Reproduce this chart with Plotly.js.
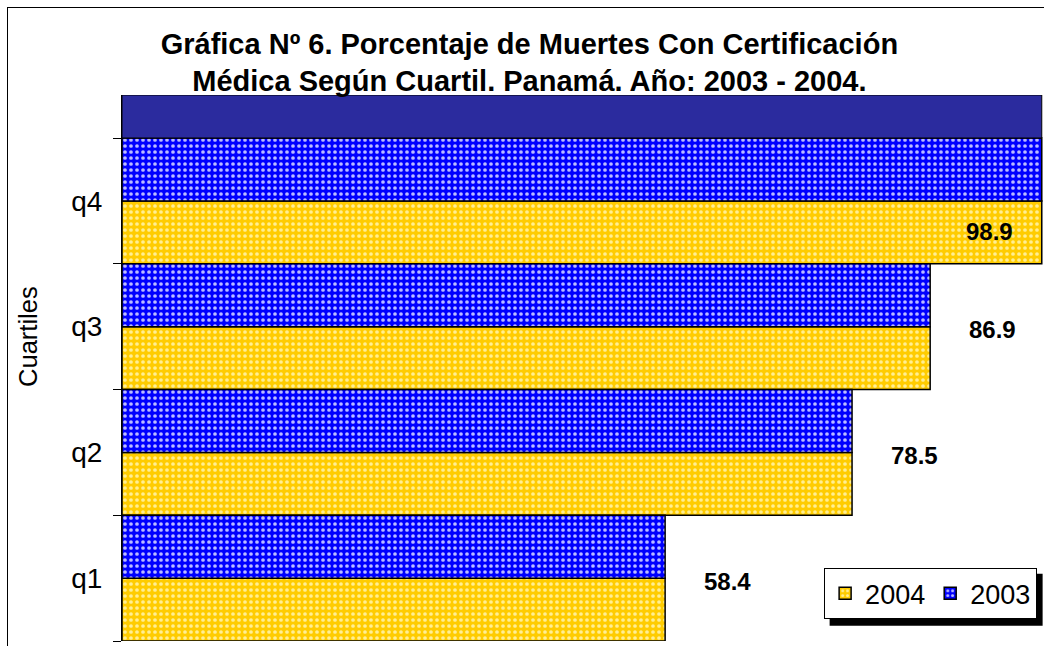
<!DOCTYPE html>
<html>
<head>
<meta charset="utf-8">
<script src="https://cdn.plot.ly/plotly-3.0.1.min.js"></script>
<style>
  html, body { margin: 0; padding: 0; overflow: hidden; background: #ffffff; width: 1044px; height: 646px; }
  #frame { position: absolute; left: 7px; top: 7px; border-left: 1px solid #000; border-top: 1px solid #000; width: 1100px; height: 700px; }
  #chart { width: 1100px; height: 700px; }
</style>
</head>
<body>
<div id="frame"><div id="chart"></div></div>
<script>
// ---- data ----
const categories = ['q1', 'q2', 'q3', 'q4'];
const values2004 = [58.4, 78.5, 86.9, 98.9];
const values2003 = [58.4, 78.5, 86.9, 98.9];
const seriesNames = ['2004', '2003'];
const titleLines = ['Gráfica Nº 6. Porcentaje de Muertes Con Certificación',
                    'Médica Según Cuartil. Panamá. Año: 2003 - 2004.'];
const yTitle = 'Cuartiles';

// ---- styles ----
const FONT = 'Arial, "Liberation Sans", sans-serif';
const yellow = { bg: '#ffcc00', fg: '#fff2a6' };
const blue = { bg: '#0000ff', fg: '#d0d0ff' };
const xMax = 100;
const yTop = 3.842;

function barTrace(name, vals, col) {
  return {
    type: 'bar', orientation: 'h', name: name,
    y: categories, x: vals,
    marker: {
      color: col.bg,
      line: { color: '#000000', width: 1.5 },
      pattern: { shape: '.', bgcolor: col.bg, fgcolor: col.fg, fgopacity: 0.9, size: 6, solidity: 0.3 }
    },
    hoverinfo: 'x+name'
  };
}

const traces = [
  barTrace(seriesNames[0], values2004, yellow),
  barTrace(seriesNames[1], values2003, blue)
];

// data labels for 2004 series
const annotations = values2004.map((v, i) => {
  const inside = v > 95;
  return {
    xref: 'x', yref: 'y', x: v, y: categories[i],
    text: '<b>' + v.toFixed(1) + '</b>', showarrow: false,
    xanchor: 'center', yanchor: 'middle',
    xshift: inside ? -52 : 62, yshift: inside ? -31 : -3,
    font: { family: FONT, size: 24, color: '#000000' }
  };
});
annotations.push({
  xref: 'paper', yref: 'paper', x: -0.101, y: 0.557,
  text: yTitle, showarrow: false, textangle: -90,
  xanchor: 'center', yanchor: 'middle',
  font: { family: FONT, size: 25.5, color: '#000000' }
});

const maxVal = Math.max(...values2003);
const layout = {
  width: 1100, height: 700,
  margin: { l: 114, r: 56, t: 87, b: 67 },
  paper_bgcolor: '#ffffff', plot_bgcolor: '#ffffff',
  font: { family: FONT, color: '#000000' },
  title: {
    text: '<b>' + titleLines.join('<br>') + '</b>',
    font: { family: FONT, size: 29, color: '#000000' },
    xref: 'container', x: 0.474, xanchor: 'center',
    yref: 'container', y: 0.935, yanchor: 'top'
  },
  barmode: 'group', bargap: 0, bargroupgap: 0,
  xaxis: { range: [0, xMax], visible: false, fixedrange: true },
  yaxis: {
    type: 'category', range: [-0.5, yTop],
    showline: true, linecolor: '#000000', linewidth: 1,
    ticks: 'outside', ticklen: 8, tickcolor: '#000000', tickson: 'boundaries',
    showgrid: false, zeroline: false,
    tickfont: { family: FONT, size: 28, color: '#000000' },
    ticklabelstandoff: 13, fixedrange: true
  },
  shapes: [{
    type: 'rect', xref: 'x', yref: 'y', x0: 0, x1: maxVal, y0: 3.5, y1: yTop,
    fillcolor: '#2b2b9e', line: { color: '#000000', width: 1 }, layer: 'above'
  }],
  annotations: annotations,
  showlegend: true,
  legend: {
    orientation: 'h', x: 0.984, xanchor: 'right', y: 0.04, yanchor: 'bottom',
    bgcolor: '#ffffff', bordercolor: '#000000', borderwidth: 1,
    font: { family: FONT, size: 27, color: '#000000' },
    traceorder: 'normal', itemwidth: 30
  }
};

Plotly.newPlot('chart', traces, layout, { displayModeBar: false, staticPlot: true }).then(gd => {
  const bg = gd.querySelector('.legend .bg');
  if (!bg) return;
  const r = bg.getBoundingClientRect();
  const g = gd.getBoundingClientRect();
  const s = gd._fullLayout._size;
  const px = xPix => (xPix - g.left - s.l) / s.w;
  const py = yPix => 1 - (yPix - g.top - s.t) / s.h;
  const shadow = {
    type: 'rect', xref: 'paper', yref: 'paper',
    x0: px(r.left + 5), x1: px(r.right + 6), y0: py(r.bottom + 7), y1: py(r.top + 5),
    fillcolor: '#000000', line: { width: 0 }, layer: 'above'
  };
  Plotly.relayout(gd, { shapes: layout.shapes.concat([shadow]) });
});
</script>
</body>
</html>
